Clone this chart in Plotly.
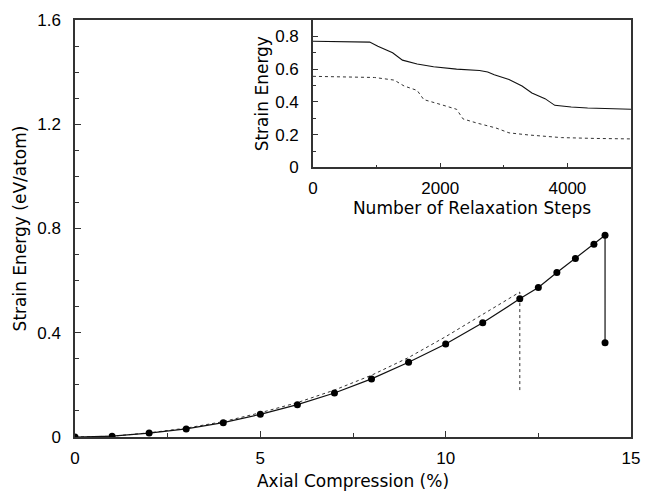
import plotly.graph_objects as go

# Main plot: strain energy vs axial compression
comp_x = [0, 1, 2, 3, 4, 5, 6, 7, 8, 9, 10, 11, 12, 12.5, 13, 13.5, 14, 14.3, 14.3]
comp_e = [0, 0.003, 0.015, 0.031, 0.055, 0.087, 0.124, 0.169, 0.223, 0.287,
          0.357, 0.438, 0.53, 0.574, 0.631, 0.685, 0.74, 0.774, 0.362]

dot_x = [0, 1, 2, 3, 4, 5, 6, 7, 8, 9, 10, 11, 12, 12]
dot_e = [0, 0.003, 0.016, 0.034, 0.059, 0.093, 0.132, 0.18, 0.237, 0.305,
         0.385, 0.47, 0.556, 0.179]

# Inset: strain energy vs relaxation steps
steps_a = [0, 196, 892, 1020, 1252, 1407, 1638, 1896, 2257, 2618, 2747, 2850,
           3082, 3287, 3442, 3648, 3802, 4060, 4318, 5000]
energy_a = [0.77, 0.769, 0.765, 0.74, 0.70, 0.655, 0.631, 0.615, 0.60, 0.592,
            0.582, 0.566, 0.537, 0.497, 0.454, 0.42, 0.379, 0.369, 0.363, 0.355]
steps_b = [0, 969, 1278, 1433, 1638, 1742, 2000, 2257, 2360, 2566, 2875, 3082,
           3391, 3906, 4420, 5000]
energy_b = [0.556, 0.549, 0.533, 0.497, 0.47, 0.414, 0.385, 0.355, 0.296,
            0.272, 0.241, 0.211, 0.198, 0.182, 0.177, 0.174]

main_xticks = [0, 5, 10, 15]
main_yticks = [0, 0.4, 0.8, 1.2, 1.6]
main_yticklabels = ["0", "0.4", "0.8", "1.2", "1.6"]
inset_xticks = [0, 2000, 4000]
inset_yticks = [0, 0.2, 0.4, 0.6, 0.8]
inset_yticklabels = ["0", "0.2", "0.4", "0.6", "0.8"]

FONT = "Liberation Sans, Arial, Helvetica, sans-serif"
TFONT = "DejaVu Sans, Liberation Sans, sans-serif"
LINE = "#333333"

fig = go.Figure()
fig.add_trace(go.Scatter(x=dot_x, y=dot_e, mode="lines",
                         line=dict(color="#333333", width=1, dash="dot"),
                         xaxis="x", yaxis="y", showlegend=False))
fig.add_trace(go.Scatter(x=comp_x, y=comp_e, mode="lines+markers",
                         line=dict(color="#111111", width=1.2),
                         marker=dict(color="black", size=7),
                         xaxis="x", yaxis="y", showlegend=False))
fig.add_trace(go.Scatter(x=steps_a, y=energy_a, mode="lines",
                         line=dict(color="#111111", width=1.1),
                         xaxis="x2", yaxis="y2", showlegend=False))
fig.add_trace(go.Scatter(x=steps_b, y=energy_b, mode="lines",
                         line=dict(color="#333333", width=1, dash="dot"),
                         xaxis="x2", yaxis="y2", showlegend=False))

axis_common = dict(showline=True, linecolor=LINE, linewidth=1.5, mirror=True,
                   ticks="inside", tickcolor=LINE, tickwidth=1.2,
                   showgrid=False, zeroline=False, ticklabeloverflow="allow",
                   tickfont=dict(family=FONT, size=17, color="black"))

fig.update_layout(
    width=651, height=499,
    margin=dict(l=75, r=11, t=15, b=54),
    paper_bgcolor="white", plot_bgcolor="white",
    font=dict(family=FONT, size=17, color="black"),
    xaxis=dict(domain=[0, 1], range=[0, 15], tickvals=main_xticks,
               ticklen=6, ticklabelstandoff=5,
               minor=dict(dtick=2.5, ticks="inside", ticklen=4, tickcolor=LINE, showgrid=False),
               title=dict(text="Axial Compression (%)", font=dict(family=TFONT, size=17), standoff=8),
               anchor="y", **axis_common),
    yaxis=dict(domain=[0, 1], range=[0, 1.6], tickvals=main_yticks, ticktext=main_yticklabels,
               ticklen=6, ticklabelstandoff=9,
               minor=dict(dtick=0.1, ticks="inside", ticklen=4, tickcolor=LINE, showgrid=False),
               title=dict(text="Strain Energy (eV/atom)", font=dict(family=TFONT, size=17), standoff=6),
               anchor="x", **axis_common),
    xaxis2=dict(domain=[0.428, 1.0], range=[0, 5000], tickvals=inset_xticks,
                ticklen=5, ticklabelstandoff=4,
                minor=dict(dtick=1000, ticks="inside", ticklen=3, tickcolor=LINE, showgrid=False),
                title=dict(text="Number of Relaxation Steps", font=dict(family=TFONT, size=17), standoff=5),
                anchor="y2", **axis_common),
    yaxis2=dict(domain=[0.6465, 1.0], range=[0, 0.9], tickvals=inset_yticks, ticktext=inset_yticklabels,
                ticklen=5, ticklabelstandoff=9,
                minor=dict(dtick=0.1, ticks="inside", ticklen=3, tickcolor=LINE, showgrid=False),
                title=dict(text="Strain Energy", font=dict(family=TFONT, size=17), standoff=2),
                anchor="x2", **axis_common),
)

fig.write_html("out.html",
               config={"displayModeBar": False},
               post_script="document.body.style.margin='0';document.body.style.overflow='hidden';")
